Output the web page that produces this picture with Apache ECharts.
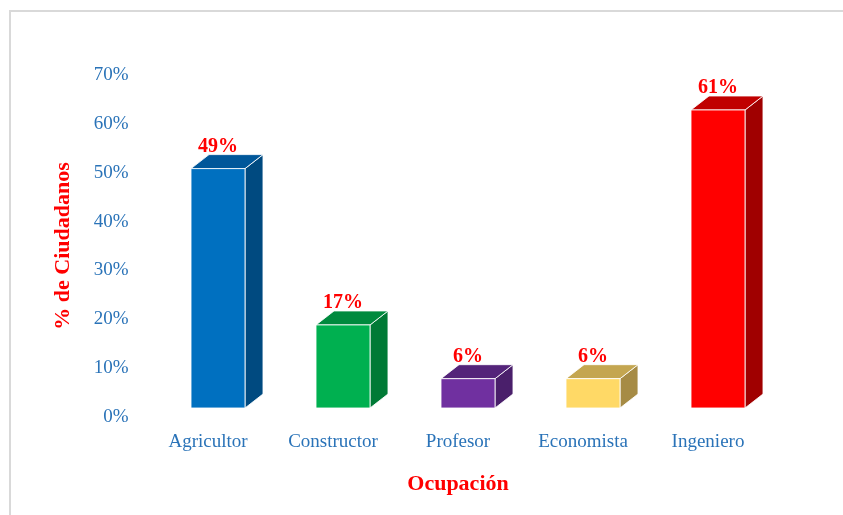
<!DOCTYPE html>
<html>
<head>
<meta charset="utf-8">
<script src="https://cdn.jsdelivr.net/npm/echarts@6/dist/echarts.min.js"></script>
<style>
    html, body { margin: 0; padding: 0; background: #fff; }
    #chart { width: 843px; height: 515px; }
</style>
</head>
<body>
<div id="chart"></div>
<script>
    var categories = ['Agricultor', 'Constructor', 'Profesor', 'Economista', 'Ingeniero'];
    var values = [49, 17, 6, 6, 61];
    var yTicks = [0, 10, 20, 30, 40, 50, 60, 70];

    // front / top / side colours for each bar
    var faceColors = [
        ['#0070C0', '#00579A', '#004A80'],
        ['#00B050', '#008A3E', '#007A36'],
        ['#7030A0', '#54247A', '#4A1F6B'],
        ['#FFD966', '#C4A650', '#A68B45'],
        ['#FF0000', '#C00000', '#A00000']
    ];

    var font = 'Liberation Serif';
    var depthX = 18, depthY = 14;   // 3d depth of the box
    var frontShift = 9;             // front face sits a bit above the wall scale
    var frontOff = 10;              // front face centre right of category centre
    var frontW = 54;

    function renderBox(params, api) {
        var i = api.value(0);
        var v = api.value(1);
        var top = api.coord([i, v]);
        var base = api.coord([i, 0]);
        var x0 = top[0] + frontOff - frontW / 2;
        var x1 = x0 + frontW;
        var y0 = top[1] - frontShift;
        var y1 = base[1] - frontShift;
        var c = faceColors[i];
        var edge = { stroke: 'rgba(255,255,255,0.85)', lineWidth: 1 };
        return {
            type: 'group',
            children: [
                {
                    type: 'polygon',
                    shape: { points: [[x1, y0], [x1 + depthX, y0 - depthY], [x1 + depthX, y1 - depthY], [x1, y1]] },
                    style: Object.assign({ fill: c[2] }, edge)
                },
                {
                    type: 'polygon',
                    shape: { points: [[x0, y0], [x0 + depthX, y0 - depthY], [x1 + depthX, y0 - depthY], [x1, y0]] },
                    style: Object.assign({ fill: c[1] }, edge)
                },
                {
                    type: 'rect',
                    shape: { x: x0, y: y0, width: frontW, height: y1 - y0 },
                    style: Object.assign({ fill: c[0] }, edge)
                },
                {
                    type: 'text',
                    x: (x0 + x1) / 2,
                    y: y0 - depthY + 2,
                    style: {
                        text: v + '%',
                        fill: '#FF0000',
                        font: 'bold 20px "' + font + '"',
                        align: 'center',
                        verticalAlign: 'bottom'
                    }
                }
            ]
        };
    }

    var data = [];
    for (var i = 0; i < categories.length; i++) {
        data.push([i, values[i]]);
    }

    var option = {
        backgroundColor: '#ffffff',
        animation: false,
        graphic: [
            {
                type: 'rect',
                shape: { x: 10, y: 11, width: 900, height: 600 },
                style: { fill: 'none', stroke: '#D9D9D9', lineWidth: 2 }
            }
        ],
        grid: { left: 145.5, right: 72.5, top: 75, bottom: 98, containLabel: false },
        xAxis: {
            type: 'category',
            data: categories,
            axisLine: { show: false },
            axisTick: { show: false },
            axisLabel: { color: '#2A73B8', fontFamily: font, fontSize: 19, margin: 16 },
            name: 'Ocupación',
            nameLocation: 'middle',
            nameGap: 56,
            nameTextStyle: { color: '#FF0000', fontFamily: font, fontSize: 22, fontWeight: 'bold' }
        },
        yAxis: {
            type: 'value',
            min: yTicks[0],
            max: yTicks[yTicks.length - 1],
            interval: 10,
            axisLine: { show: false },
            axisTick: { show: false },
            splitLine: { show: false },
            axisLabel: { color: '#2A73B8', fontFamily: font, fontSize: 19, margin: 17, formatter: '{value}%' },
            name: '% de Ciudadanos',
            nameLocation: 'middle',
            nameRotate: 90,
            nameGap: 71,
            nameTextStyle: { color: '#FF0000', fontFamily: font, fontSize: 22, fontWeight: 'bold' }
        },
        series: [
            {
                type: 'custom',
                renderItem: renderBox,
                data: data,
                encode: { x: 0, y: 1 },
                clip: false
            }
        ]
    };

    var myChart = echarts.init(document.getElementById('chart'));
    myChart.setOption(option);
</script>
</body>
</html>
